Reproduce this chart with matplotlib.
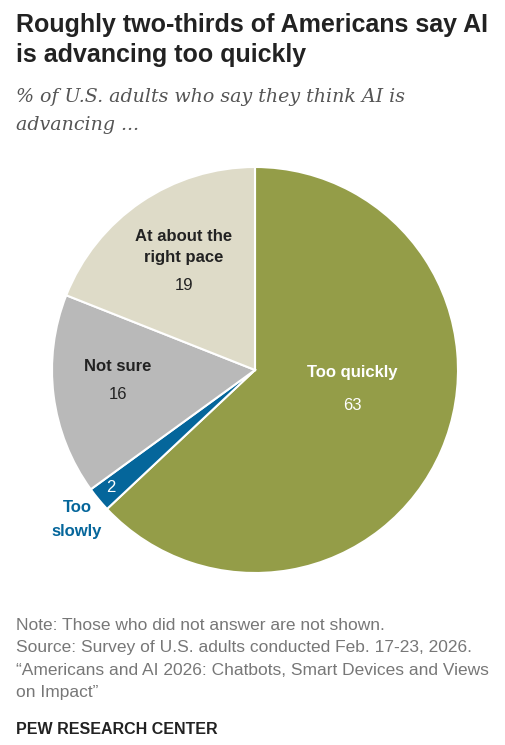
import matplotlib
matplotlib.use("Agg")
from matplotlib import pyplot as plt

# data
categories = ["Too quickly", "Too slowly", "Not sure", "At about the\nright pace"]
values = [63, 2, 16, 19]
colors = ["#949d48", "#05669b", "#b9b9b9", "#dedbc8"]

W, H = 506, 745
fig = plt.figure(figsize=(W / 100, H / 100), dpi=100)

def px(x, y):
    # pixel coordinates (from top-left) to figure fraction
    return x / W, 1 - y / H

# pie placement: center (255, 370) px, radius 203 px
cx, cy, R = 255, 370, 203
ax = fig.add_axes([(cx - R) / W, (H - cy - R) / H, 2 * R / W, 2 * R / H])
ax.pie(values, colors=colors, startangle=90, counterclock=False, radius=1,
       wedgeprops=dict(edgecolor="white", linewidth=1.5))
ax.set_xlim(-1, 1)
ax.set_ylim(-1, 1)
ax.set_aspect("equal")
ax.axis("off")

lab = dict(ha="center", va="center", family="Liberation Sans")
fs = 12
# too quickly
ax.text(0.478, -0.01, categories[0], color="white", fontsize=fs, fontweight="bold", **lab)
ax.text(0.478, -0.177, str(values[0]), color="white", fontsize=fs, **lab)
# too slowly
ax.text(-0.709, -0.581, str(values[1]), color="white", fontsize=fs, **lab)
ax.text(-0.877, -0.736, "Too\nslowly", color=colors[1], fontsize=fs, fontweight="bold",
        linespacing=1.75, **lab)
# not sure
ax.text(-0.675, 0.015, categories[2], color="#222222", fontsize=fs, fontweight="bold", **lab)
ax.text(-0.675, -0.123, str(values[2]), color="#222222", fontsize=fs, **lab)
# right pace
ax.text(-0.35, 0.604, categories[3], color="#222222", fontsize=fs, fontweight="bold",
        linespacing=1.5, **lab)
ax.text(-0.35, 0.414, str(values[3]), color="#222222", fontsize=fs, **lab)

# title
fig.text(*px(16, 40), "Roughly two-thirds of Americans say AI\nis advancing too quickly",
         fontsize=18, fontweight="bold", color="#222222", family="Liberation Sans",
         ha="left", va="center", linespacing=1.3)
# subtitle
fig.text(*px(16, 111), "% of U.S. adults who say they think AI is\nadvancing ...",
         fontsize=13.7, style="italic", color="#555555", family="DejaVu Serif",
         ha="left", va="center", linespacing=1.7)

# footer
note = ("Note: Those who did not answer are not shown.\n"
        "Source: Survey of U.S. adults conducted Feb. 17-23, 2026.\n"
        "\u201cAmericans and AI 2026: Chatbots, Smart Devices and Views\n"
        "on Impact\u201d")
fig.text(*px(16, 659), note, fontsize=12.5, color="#777777", family="Liberation Sans",
         ha="left", va="center", linespacing=1.6)
fig.text(*px(16, 730), "PEW RESEARCH CENTER", fontsize=11.5, fontweight="bold",
         color="#222222", family="Liberation Sans", ha="left", va="center")

fig.savefig("out.png", dpi=100, facecolor="white")
